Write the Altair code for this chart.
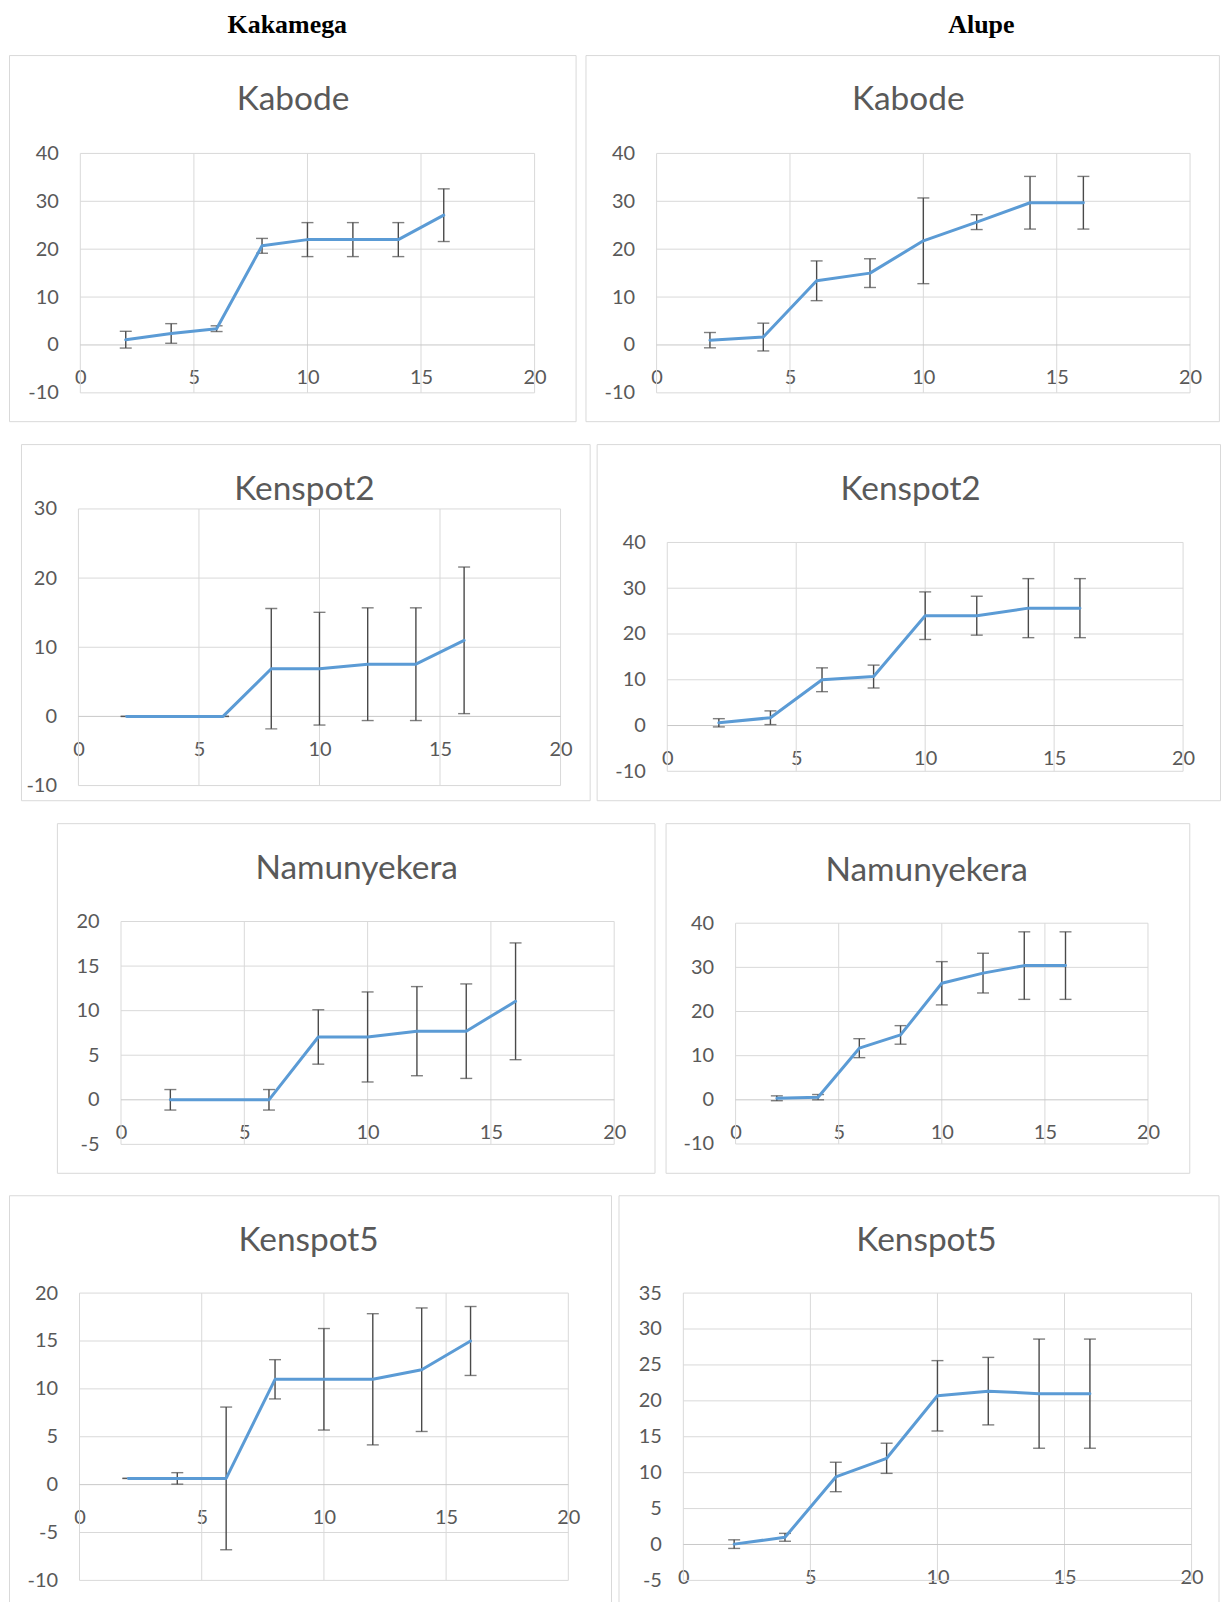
import altair as alt
import pandas as pd

# ---------------- data ----------------
weeks = [2, 4, 6, 8, 10, 12, 14, 16]
x_ticks = [0, 5, 10, 15, 20]
site_headers = ["Kakamega", "Alupe"]

kak_kabode_mean = [1.1, 2.4, 3.4, 20.7, 22.0, 22.0, 22.0, 27.1]
kak_kabode_err = [1.75, 2.05, 0.6, 1.55, 3.55, 3.55, 3.55, 5.5]
kak_kabode_ticks = [-10, 0, 10, 20, 30, 40]

alu_kabode_mean = [1.0, 1.65, 13.4, 15.0, 21.75, 25.65, 29.7, 29.7]
alu_kabode_err = [1.6, 2.9, 4.15, 3.0, 8.95, 1.55, 5.5, 5.5]
alu_kabode_ticks = [-10, 0, 10, 20, 30, 40]

kak_kenspot2_mean = [0, 0, 0, 6.9, 6.9, 7.55, 7.55, 11.0]
kak_kenspot2_err = [0, 0, 0, 8.7, 8.15, 8.15, 8.15, 10.6]
kak_kenspot2_ticks = [-10, 0, 10, 20, 30]

alu_kenspot2_mean = [0.6, 1.7, 10.0, 10.7, 24.0, 24.0, 25.65, 25.65]
alu_kenspot2_err = [0.9, 1.5, 2.6, 2.5, 5.2, 4.25, 6.45, 6.45]
alu_kenspot2_ticks = [-10, 0, 10, 20, 30, 40]

kak_namun_mean = [0, 0, 0, 7.05, 7.05, 7.7, 7.7, 11.05]
kak_namun_err = [1.15, 0, 1.15, 3.05, 5.05, 5.0, 5.3, 6.55]
kak_namun_ticks = [-5, 0, 5, 10, 15, 20]

alu_namun_mean = [0.35, 0.6, 11.7, 14.7, 26.4, 28.7, 30.4, 30.4]
alu_namun_err = [0.55, 0.6, 2.15, 2.1, 4.9, 4.5, 7.65, 7.65]
alu_namun_ticks = [-10, 0, 10, 20, 30, 40]

kak_kenspot5_mean = [0.65, 0.65, 0.65, 11.0, 11.0, 11.0, 12.0, 15.0]
kak_kenspot5_err = [0, 0.6, 7.45, 2.05, 5.3, 6.85, 6.45, 3.6]
kak_kenspot5_ticks = [-10, -5, 0, 5, 10, 15, 20]

alu_kenspot5_mean = [0.05, 1.0, 9.4, 12.0, 20.7, 21.35, 21.0, 21.0]
alu_kenspot5_err = [0.6, 0.55, 2.05, 2.1, 4.9, 4.7, 7.6, 7.6]
alu_kenspot5_ticks = [-5, 0, 5, 10, 15, 20, 25, 30, 35]

# ---------------- styles ----------------
FONT = "Lato"
TXT = "#595959"
GRID = "#d9d9d9"
ZERO = "#c8c8c8"
BOX = "#d9d9d9"
BLUE = "#5B9BD5"
ERR = "#4a4a4a"


def panel(name, mean, err, yticks, box, plot_x, plot_y, title_pos):
    bw, bh = box
    ymin, ymax = min(yticks), max(yticks)
    df = pd.DataFrame({"week": weeks, "mean": mean, "err": err})
    df["lo"] = df["mean"] - df["err"]
    df["hi"] = df["mean"] + df["err"]

    xs = alt.Scale(domain=[0, 20], range=list(plot_x), nice=False, zero=False)
    ys = alt.Scale(domain=[ymin, ymax], range=list(plot_y), nice=False, zero=False)
    y0 = plot_y[0] + (0 - ymin) / (ymax - ymin) * (plot_y[1] - plot_y[0])

    lab = dict(labelFont=FONT, labelFontSize=20, labelColor=TXT, title=None,
               grid=False, domain=False, ticks=False, tickSize=0,
               labelOverlap=False, labelExpr="'' + datum.value")
    x_axis = alt.Axis(values=x_ticks, orient="bottom", offset=y0 - bh,
                      labelPadding=23, labelFlush=False, **lab)
    y_axis = alt.Axis(values=yticks, orient="left", offset=-plot_x[0],
                      labelPadding=22, **lab)

    gx = pd.DataFrame({"t": x_ticks, "lo": [ymin] * len(x_ticks), "hi": [ymax] * len(x_ticks)})
    gy = pd.DataFrame({"t": yticks, "lo": [0] * len(yticks), "hi": [20] * len(yticks)})

    vgrid = alt.Chart(gx).mark_rule(color=GRID, strokeWidth=1).encode(
        x=alt.X("t:Q", scale=xs, axis=x_axis),
        y=alt.Y("lo:Q", scale=ys, axis=y_axis), y2="hi:Q")
    hgrid = alt.Chart(gy).mark_rule(strokeWidth=1).encode(
        y=alt.Y("t:Q", scale=ys, axis=y_axis),
        x=alt.X("lo:Q", scale=xs, axis=x_axis), x2="hi:Q",
        color=alt.condition("datum.t == 0", alt.value(ZERO), alt.value(GRID)))

    base = alt.Chart(df)
    xenc = alt.X("week:Q", scale=xs, axis=x_axis)
    bars = base.mark_rule(color=ERR, strokeWidth=1.4).encode(
        x=xenc, y=alt.Y("lo:Q", scale=ys, axis=y_axis), y2="hi:Q")
    cap_lo = base.mark_tick(orient="horizontal", size=12, thickness=1.4, color=ERR).encode(
        x=xenc, y=alt.Y("lo:Q", scale=ys, axis=y_axis))
    cap_hi = base.mark_tick(orient="horizontal", size=12, thickness=1.4, color=ERR).encode(
        x=xenc, y=alt.Y("hi:Q", scale=ys, axis=y_axis))
    line = base.mark_line(color=BLUE, strokeWidth=3, strokeCap="round", strokeJoin="round").encode(
        x=xenc, y=alt.Y("mean:Q", scale=ys, axis=y_axis))
    title = alt.Chart(pd.DataFrame({"name": [name]})).mark_text(
        font=FONT, fontSize=33.5, color=TXT, align="center", baseline="alphabetic"
    ).encode(text="name:N", x=alt.value(title_pos[0]), y=alt.value(title_pos[1]))

    return alt.layer(vgrid, hgrid, bars, cap_lo, cap_hi, line, title).properties(
        width=bw, height=bh,
        view=alt.ViewBackground(stroke=BOX, strokeWidth=1, fill="white"))


def spacer(w):
    return alt.Chart(pd.DataFrame({"s": [0]})).mark_point(opacity=0, size=1).encode(
        x=alt.value(w / 2), y=alt.value(1)
    ).properties(width=w, height=2, view=alt.ViewBackground(strokeWidth=0))


def header_text(label, cx):
    return alt.Chart(pd.DataFrame({"h": [label]})).mark_text(
        font="Liberation Serif", fontWeight="bold", fontSize=26, color="black",
        align="center", baseline="alphabetic"
    ).encode(text="h:N", x=alt.value(cx), y=alt.value(23))


header = alt.layer(header_text(site_headers[0], 279), header_text(site_headers[1], 974.8)).properties(
    width=1212, height=29, view=alt.ViewBackground(strokeWidth=0))

p1 = panel("Kabode", kak_kabode_mean, kak_kabode_err, kak_kabode_ticks,
           (568, 367), (71.5, 526.9), (338.6, 98.6), (284.7, 55.3))
p2 = panel("Kabode", alu_kabode_mean, alu_kabode_err, alu_kabode_ticks,
           (635, 367), (71.3, 606.1), (338.6, 98.6), (323.6, 55.3))
p3 = panel("Kenspot2", kak_kenspot2_mean, kak_kenspot2_err, kak_kenspot2_ticks,
           (570.1, 357), (57.6, 540.9), (342.3, 65), (284.1, 56.3))
p4 = panel("Kenspot2", alu_kenspot2_mean, alu_kenspot2_err, alu_kenspot2_ticks,
           (624.9, 357), (70.8, 587.9), (328, 98.6), (314.7, 56.3))
p5 = panel("Namunyekera", kak_namun_mean, kak_namun_err, kak_namun_ticks,
           (599.1, 350.5), (64.3, 558.7), (322, 98.6), (300.5, 56))
p6 = panel("Namunyekera", alu_namun_mean, alu_namun_err, alu_namun_ticks,
           (525, 350.5), (70.2, 483.6), (321.6, 100.3), (261.8, 57.6))
p7 = panel("Kenspot5", kak_kenspot5_mean, kak_kenspot5_err, kak_kenspot5_ticks,
           (603.5, 414), (70.7, 560.7), (386.1, 98.1), (300.3, 56.1))
p8 = panel("Kenspot5", alu_kenspot5_mean, alu_kenspot5_err, alu_kenspot5_ticks,
           (601.5, 414), (65, 574.5), (386.1, 98.1), (308.7, 56.1))

row1 = alt.hconcat(p1, p2, spacing=7.9)
row2 = alt.hconcat(spacer(10.9), alt.hconcat(p3, p4, spacing=5.1), spacing=0)
row3 = alt.hconcat(spacer(46.2), alt.hconcat(p5, p6, spacing=9.2), spacing=0)
row4 = alt.hconcat(p7, p8, spacing=6)

panels = alt.vconcat(row1, row2, row3, row4, spacing=21)

chart = alt.vconcat(header, panels, spacing=15.2).properties(
    padding=0, background="white"
).configure_view(strokeWidth=0)

chart.save("out.html", embed_options={"renderer": "svg", "actions": False})
